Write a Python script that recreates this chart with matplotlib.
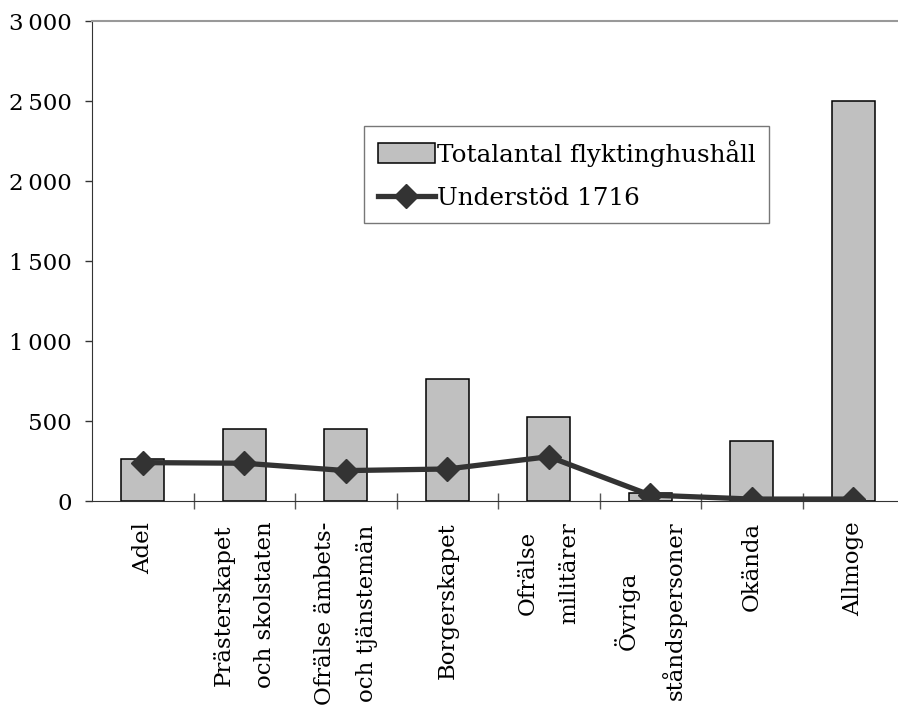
import matplotlib.pyplot as plt
from matplotlib.ticker import FuncFormatter, FixedLocator

# data
categories = ['Adel', 'Prästerskapet\noch skolstaten', 'Ofrälse ämbets-\noch tjänstemän',
              'Borgerskapet', 'Ofrälse\nmilitärer', 'Övriga\nståndspersoner', 'Okända', 'Allmoge']
totalt = [262, 448, 448, 762, 527, 48, 375, 2500]
understod = [240, 236, 190, 200, 277, 37, 12, 12]

plt.rcParams['font.family'] = ['DejaVu Serif']
plt.rcParams['font.size'] = 16.5

fig = plt.figure(figsize=(8.98, 7.11), dpi=100)
ax = fig.add_axes([92 / 898, 1 - 501 / 711, 812 / 898, 480 / 711])

x = list(range(len(categories)))
bars = ax.bar(x, totalt, width=0.42, color='#c0c0c0', edgecolor='black', linewidth=1.1,
              label='Totalantal flyktinghushåll', zorder=2)
line, = ax.plot(x, understod, color='#333333', linewidth=3.8, marker='D', markersize=12,
                label='Understöd 1716', zorder=3)

ax.set_xlim(-0.5, len(categories) - 0.5)
ax.set_ylim(0, 3000)
ax.set_yticks(range(0, 3001, 500))
ax.yaxis.set_major_formatter(FuncFormatter(lambda v, p: f"{int(v):,}".replace(',', '\u2009')))

ax.set_xticks(x)
ax.set_xticklabels(categories, rotation=90, multialignment='center', linespacing=2.15)
ax.xaxis.set_minor_locator(FixedLocator([i + 0.5 for i in x[:-1]]))
ax.tick_params(axis='x', which='major', length=0, pad=15)
ax.tick_params(axis='x', which='minor', direction='inout', length=11, width=1, color='#555555')
ax.tick_params(axis='y', direction='out', length=5, width=1, color='#333333', pad=9.5)

ax.spines['right'].set_visible(False)
ax.spines['top'].set_color('#999999')
ax.spines['top'].set_linewidth(1.5)
ax.spines['left'].set_color('#333333')
ax.spines['bottom'].set_color('#333333')

leg = ax.legend([bars, line], ['Totalantal flyktinghushåll', 'Understöd 1716'],
                loc='upper left', bbox_to_anchor=(364 / 898, 1 - 126 / 711),
                bbox_transform=fig.transFigure, frameon=True, fancybox=False,
                edgecolor='#555555', fontsize=17.7, handlelength=2.35, handleheight=0.9,
                handletextpad=0.05, borderpad=0.55, labelspacing=0.8, borderaxespad=0)
leg.get_frame().set_linewidth(1.0)

fig.savefig('out.png', dpi=100)
